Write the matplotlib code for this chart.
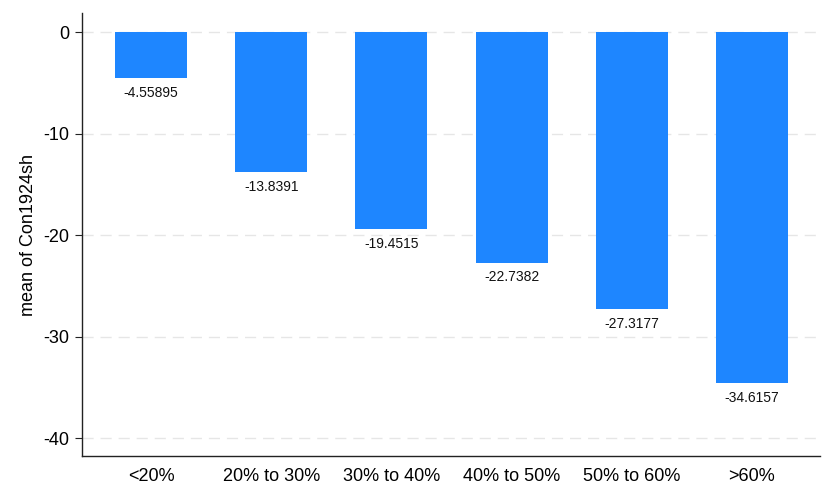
import matplotlib
matplotlib.use("Agg")
import matplotlib.pyplot as plt
import numpy as np

plt.rcParams['font.family'] = ['Liberation Sans', 'DejaVu Sans']

categories = ["<20%", "20% to 30%", "30% to 40%", "40% to 50%", "50% to 60%", ">60%"]
means = [-4.55895, -13.8391, -19.4515, -22.7382, -27.3177, -34.6157]
labels = ["-4.55895", "-13.8391", "-19.4515", "-22.7382", "-27.3177", "-34.6157"]
yticks = [0, -10, -20, -30, -40]

fig = plt.figure(figsize=(8.32, 4.97), dpi=100)
ax = fig.add_axes([0.0986, 0.0825, 0.887, 0.8913])

x = np.arange(len(categories))
ax.bar(x, means, width=0.6, color="#1E86FF", zorder=2)

# value labels under each bar
for xi, v, lab in zip(x, means, labels):
    ax.annotate(lab, (xi, v), xytext=(0, -5.5), textcoords="offset points",
                ha="center", va="top", fontsize=10, color="#111111")

ax.set_xlim(-0.574, 5.566)
ax.set_ylim(-41.77, 1.87)
ax.set_yticks(yticks)
ax.set_yticklabels([str(t) for t in yticks], fontsize=13)
ax.set_xticks(x)
ax.set_xticklabels(categories, fontsize=13)
ax.tick_params(axis="x", length=0, pad=9)
ax.tick_params(axis="y", length=5, pad=4, color="#222222")
ax.set_ylabel("mean of Con1924sh", fontsize=13, labelpad=5)

for t in yticks:
    ax.axhline(t, color="#e6e6e6", lw=1, ls=(0, (8, 5)), zorder=1)

for s in ["top", "right"]:
    ax.spines[s].set_visible(False)
for s in ["left", "bottom"]:
    ax.spines[s].set_color("#222222")
    ax.spines[s].set_linewidth(1)

fig.savefig("out.png", dpi=100)
